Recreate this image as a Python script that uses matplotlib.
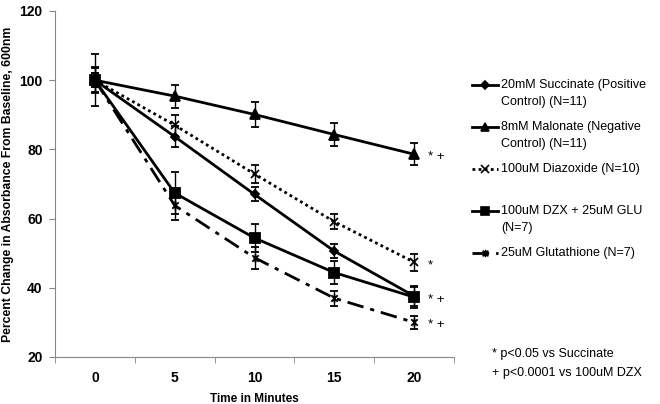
import matplotlib
matplotlib.use('Agg')
import matplotlib.pyplot as plt
from matplotlib.lines import Line2D
from matplotlib.path import Path
import numpy as np

plt.rcParams['font.family'] = ['Liberation Sans', 'DejaVu Sans']

minutes = ['0', '5', '10', '15', '20']

succinate = [100, 83.7, 67.0, 50.6, 37.6]
succinate_err = [2.0, 3.0, 2.0, 2.0, 3.0]
malonate = [100, 95.4, 90.1, 84.3, 78.6]
malonate_err = [3.5, 3.3, 3.5, 3.3, 3.2]
diazoxide = [100, 87.0, 72.9, 59.1, 47.4]
diazoxide_err = [2.0, 3.0, 2.5, 2.2, 2.5]
dzx_glu = [100, 67.4, 54.4, 44.4, 37.3]
dzx_glu_err = [7.5, 6.2, 4.1, 3.4, 3.0]
glutathione = [100, 63.8, 48.7, 37.0, 30.0]
glutathione_err = [3.8, 4.2, 3.2, 2.2, 1.8]

labels = ['20mM Succinate (Positive\nControl) (N=11)',
          '8mM Malonate (Negative\nControl) (N=11)',
          '100uM Diazoxide (N=10)',
          '100uM DZX + 25uM GLU\n(N=7)',
          '25uM Glutathione (N=7)']
sig_marks = ['', '* +', '*', '* +', '* +']
footnotes = ['* p<0.05 vs Succinate', '+ p<0.0001 vs 100uM DZX']

# Excel style star marker: an x with a vertical bar through it
star = Path([(-1, -1), (1, 1), (-1, 1), (1, -1), (0, -1.3), (0, 1.3)],
            [Path.MOVETO, Path.LINETO, Path.MOVETO, Path.LINETO, Path.MOVETO, Path.LINETO])

styles = [dict(ls='-', marker='D', ms=4),
          dict(ls='-', marker='^', ms=7),
          dict(ls=(0, (1, 1.2)), marker='x', ms=6),
          dict(ls='-', marker='s', ms=7),
          dict(ls=(0, (6, 2.5, 1.5, 2.5)), marker=star, ms=6)]

series = [(succinate, succinate_err), (malonate, malonate_err),
          (diazoxide, diazoxide_err), (dzx_glu, dzx_glu_err),
          (glutathione, glutathione_err)]

fig = plt.figure(figsize=(6.6, 4.04), dpi=100)
ax = fig.add_axes([55/660, 1-357/404, 399/660, 346/404])
x = np.arange(len(minutes))

for (vals, err), st, sig in zip(series, styles, sig_marks):
    ax.errorbar(x, vals, yerr=err, color='black', lw=2, ls=st['ls'],
                marker=st['marker'], ms=st['ms'], mew=1.3, mfc='black',
                ecolor='black', elinewidth=1, capsize=3, capthick=1)
    if sig:
        ax.annotate(sig, (x[-1], vals[-1]), xytext=(10, -2), textcoords='offset points',
                    ha='left', va='center', fontsize=9.5)

ax.set_xlim(-0.5, 4.5)
ax.set_ylim(20, 120)
ax.set_yticks([20, 40, 60, 80, 100, 120])
ax.set_xticks(x)
ax.set_xticklabels(minutes)
ax.set_xticks(np.arange(-0.5, 5, 1), minor=True)
ax.tick_params(axis='x', which='major', length=0, pad=10)
ax.tick_params(axis='x', which='minor', length=4, color='#868686')
ax.tick_params(axis='y', length=4, color='#868686', pad=5)
for lab in ax.get_xticklabels() + ax.get_yticklabels():
    lab.set_fontweight('bold')
    lab.set_fontsize(10)
for s in ['top', 'right']:
    ax.spines[s].set_visible(False)
for s in ['left', 'bottom']:
    ax.spines[s].set_color('#868686')
ax.set_xlabel('Time in Minutes', fontweight='bold', fontsize=8.5, labelpad=6)
ax.set_ylabel('Percent Change in Absorbance From Baseline, 600nm',
              fontweight='bold', fontsize=8.8)
ax.yaxis.set_label_coords(-0.104, 0.5)

# legend drawn by hand so the handle sits on the first text line
for i, (lab, st) in enumerate(zip(labels, styles)):
    y = 1 - (85 + 42 * i) / 404
    fig.add_artist(Line2D([472/660, 498/660], [y, y], color='black', lw=2, ls=st['ls'],
                          transform=fig.transFigure))
    fig.add_artist(Line2D([485/660], [y], color='black', marker=st['marker'],
                          ms=st['ms'] * 0.9, mew=1.2, mfc='black', ls='none',
                          transform=fig.transFigure))
    fig.text(501/660, y + 6/404, lab, ha='left', va='top', fontsize=9,
             linespacing=1.5)

for i, t in enumerate(footnotes):
    fig.text(492/660, 1 - (354 + 19 * i) / 404, t, ha='left', va='center', fontsize=9)

fig.savefig('out.png', dpi=100)
